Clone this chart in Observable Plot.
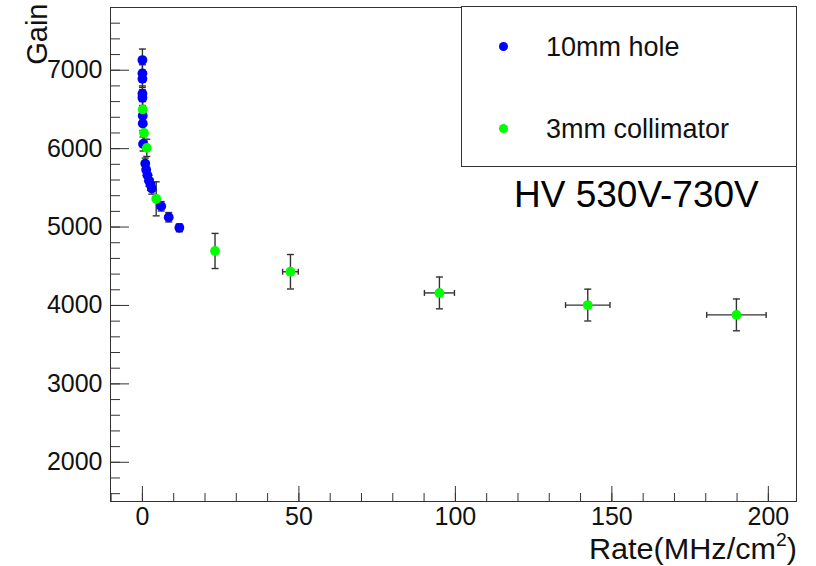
<!DOCTYPE html>
<html>
<head>
<meta charset="utf-8">
<script src="https://cdn.jsdelivr.net/npm/d3@7"></script>
<script src="https://cdn.jsdelivr.net/npm/@observablehq/plot@0.6"></script>
<style>
  html, body { margin: 0; padding: 0; background: #fff; }
  #wrap { position: relative; width: 816px; height: 566px; font-family: "Liberation Sans", Arial, Helvetica, sans-serif; }
  #legend { position: absolute; left: 461px; top: 6px; width: 334px; height: 159px; border: 1px solid #333; background: #fff; box-sizing: content-box; }
  .lg-item { position: absolute; left: 0; font-size: 27px; color: #111; line-height: 1; }
  .lg-dot { position: absolute; width: 9px; height: 9px; border-radius: 50%; }
  .lg-text { position: absolute; white-space: nowrap; }
  #hv { position: absolute; left: 514px; top: 176px; font-size: 37px; color: #000; white-space: nowrap; line-height: 1; }
  #xlab { position: absolute; right: 19px; top: 534px; font-size: 30px; color: #111; white-space: nowrap; line-height: 1; transform: scaleX(1.02); transform-origin: right center; }
  #xlab sup { font-size: 19px; vertical-align: 0; position: relative; top: -13px; }
</style>
</head>
<body>
<div id="wrap"></div>
<script>
// ---- data ----
const seriesNames = ["10mm hole", "3mm collimator"];
const seriesColors = ["#0000ff", "#00ff00"];

const blueRate    = [0.0, 0.0, 0.0, 0.0, 0.0, 0.1, 0.1, 0.2, 0.9, 1.2, 1.6, 2.1, 2.6, 3.0, 6.0, 8.4, 11.8];
const blueGain    = [7130, 6960, 6890, 6700, 6650, 6420, 6320, 6060, 5810, 5730, 5660, 5590, 5540, 5490, 5265, 5125, 4990];
const blueRateErr = [0.1, 0.1, 0.1, 0.1, 0.1, 0.1, 0.1, 0.1, 0.1, 0.1, 0.1, 0.1, 0.2, 0.2, 0.3, 0.4, 0.6];
const blueGainErr = [140, 110, 110, 100, 100, 90, 90, 90, 70, 70, 70, 70, 70, 70, 60, 60, 50];

const greenRate    = [0.1, 0.5, 1.4, 4.4, 23.2, 47.3, 94.9, 142.3, 189.8];
const greenGain    = [6500, 6200, 6010, 5360, 4695, 4430, 4160, 4005, 3880];
const greenRateErr = [0.1, 0.1, 0.1, 0.3, 1.2, 2.5, 4.8, 7.1, 9.5];
const greenGainErr = [110, 110, 110, 217, 224, 220, 203, 203, 203];

const xMajor = [0, 50, 100, 150, 200];
const xMinor = d3.range(-10, 210, 10);
const yMajor = [2000, 3000, 4000, 5000, 6000, 7000];
const yMinor = d3.range(1600, 7801, 200);

const xLabelMain = "Rate(MHz/cm";
const xLabelSup = "2";
const xLabelEnd = ")";
const yLabel = "Gain";
const note = "HV 530V-730V";

// ---- build tables ----
const blue = blueRate.map((r, i) => ({x: r, y: blueGain[i], xe: blueRateErr[i], ye: blueGainErr[i], s: 0}));
const green = greenRate.map((r, i) => ({x: r, y: greenGain[i], xe: greenRateErr[i], ye: greenGainErr[i], s: 1}));
const all = blue.concat(green);

const hcap = {draw(ctx, size) { const w = Math.sqrt(size / Math.PI); ctx.moveTo(-w, 0); ctx.lineTo(w, 0); }};
const vcap = {draw(ctx, size) { const w = Math.sqrt(size / Math.PI); ctx.moveTo(0, -w); ctx.lineTo(0, w); }};
const ink = "#333";

const chart = Plot.plot({
  width: 816,
  height: 566,
  marginLeft: 110,
  marginRight: 20,
  marginTop: 7,
  marginBottom: 65,
  style: {fontFamily: "'Liberation Sans', Arial, Helvetica, sans-serif", fontSize: "25px", color: "#111", background: "#fff", overflow: "visible"},
  x: {domain: [-10.2, 209], label: null},
  y: {domain: [1500, 7800], label: null},
  marks: [
    // inward ticks
    Plot.axisX({ticks: xMinor, tickSize: -8, tickFormat: () => "", stroke: ink}),
    Plot.axisX({ticks: xMajor, tickSize: -15, tickFormat: () => "", stroke: ink}),
    Plot.axisY({ticks: yMinor, tickSize: -10, tickFormat: () => "", stroke: ink}),
    Plot.axisY({ticks: yMajor, tickSize: -19, tickFormat: () => "", stroke: ink}),
    // labels
    Plot.axisX({ticks: xMajor, tickSize: 0, tickPadding: 6, tickFormat: d => String(d), fontSize: 25}),
    Plot.axisY({ticks: yMajor, tickSize: 0, tickPadding: 8, tickFormat: d => String(d), fontSize: 25}),
    Plot.frame({stroke: ink, strokeWidth: 1}),
    // error bars
    Plot.ruleX(all, {x: "x", y1: d => d.y - d.ye, y2: d => d.y + d.ye, stroke: ink, strokeWidth: 1.4}),
    Plot.link(all, {x1: d => d.x - d.xe, x2: d => d.x + d.xe, y1: "y", y2: "y", stroke: ink, strokeWidth: 1.4}),
    Plot.dot(all, {x: "x", y: d => d.y + d.ye, symbol: hcap, r: 3.5, stroke: ink, strokeWidth: 1.4}),
    Plot.dot(all, {x: "x", y: d => d.y - d.ye, symbol: hcap, r: 3.5, stroke: ink, strokeWidth: 1.4}),
    Plot.dot(all.filter(d => d.xe >= 2), {x: d => d.x - d.xe, y: "y", symbol: vcap, r: 3, stroke: ink, strokeWidth: 1.4}),
    Plot.dot(all.filter(d => d.xe >= 2), {x: d => d.x + d.xe, y: "y", symbol: vcap, r: 3, stroke: ink, strokeWidth: 1.4}),
    // points
    Plot.dot(blue, {x: "x", y: "y", r: 4.9, fill: seriesColors[0], stroke: "none"}),
    Plot.dot(green, {x: "x", y: "y", r: 4.9, fill: seriesColors[1], stroke: "none"}),
    // y axis title
    Plot.text([yLabel], {text: d => d, frameAnchor: "top-left", rotate: -90, textAnchor: "end", lineAnchor: "middle", dx: -73, dy: -4, fontSize: 29, fill: "#111"})
  ]
});

const wrap = document.getElementById("wrap");
wrap.appendChild(chart);

// x axis title with a real superscript
const xl = document.createElement("div");
xl.id = "xlab";
xl.appendChild(document.createTextNode(xLabelMain));
const sup = document.createElement("sup");
sup.textContent = xLabelSup;
xl.appendChild(sup);
xl.appendChild(document.createTextNode(xLabelEnd));
wrap.appendChild(xl);

// legend (overlay inside the frame, as in the reference)
const legend = document.createElement("div");
legend.id = "legend";
const rows = [{top: 39}, {top: 121}];
seriesNames.forEach((name, i) => {
  const dot = document.createElement("div");
  dot.className = "lg-dot";
  dot.style.background = seriesColors[i];
  dot.style.left = (41 - 4.5) + "px";
  dot.style.top = (rows[i].top - 4.5) + "px";
  legend.appendChild(dot);
  const t = document.createElement("div");
  t.className = "lg-item lg-text";
  t.textContent = name;
  t.style.left = "84px";
  t.style.top = (rows[i].top - 12) + "px";
  legend.appendChild(t);
});
wrap.appendChild(legend);

const hv = document.createElement("div");
hv.id = "hv";
hv.textContent = note;
wrap.appendChild(hv);
</script>
</body>
</html>
